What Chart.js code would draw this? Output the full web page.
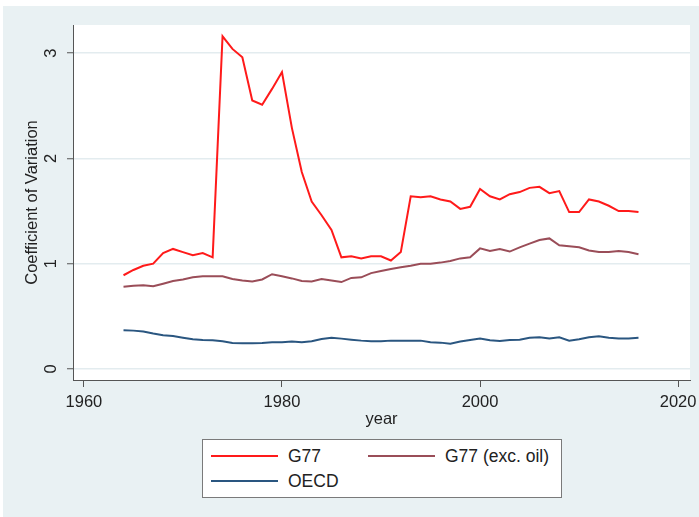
<!DOCTYPE html>
<html>
<head>
<meta charset="utf-8">
<script src="https://cdn.jsdelivr.net/npm/chart.js@4/dist/chart.umd.min.js"></script>
<style>
  body { margin: 0; background: #fff; width: 699px; height: 517px; overflow: hidden; position: relative; }
  #bg { position: absolute; left: 3px; top: 6px; right: 0; bottom: 0; background: #e9f1f3; }
  #chart { position: absolute; left: 0; top: 0; }
  #legend {
    position: absolute; left: 202px; top: 439px; width: 358px; height: 57px;
    background: #fff; border: 1px solid #7a7a7a;
    font-family: "Liberation Sans", Arial, sans-serif; font-size: 17.5px; color: #222;
  }
  .item { position: absolute; height: 20px; }
  .item .swatch { position: absolute; left: 0; top: 9px; width: 67px; height: 0; border-top: 2px solid; }
  .item .txt { position: absolute; left: 77px; top: 0; line-height: 20px; white-space: nowrap; }
</style>
</head>
<body>
<div id="bg"></div>
<canvas id="chart" width="699" height="517"></canvas>
<div id="legend"></div>
<script>
// Data
const years = [1964, 1965, 1966, 1967, 1968, 1969, 1970, 1971, 1972, 1973,
  1974, 1975, 1976, 1977, 1978, 1979, 1980, 1981, 1982, 1983,
  1984, 1985, 1986, 1987, 1988, 1989, 1990, 1991, 1992, 1993,
  1994, 1995, 1996, 1997, 1998, 1999, 2000, 2001, 2002, 2003,
  2004, 2005, 2006, 2007, 2008, 2009, 2010, 2011, 2012, 2013,
  2014, 2015, 2016];

const g77 = [0.89, 0.94, 0.98, 1.00, 1.10, 1.14, 1.11, 1.08, 1.10, 1.06,
  3.16, 3.04, 2.96, 2.55, 2.51, 2.66, 2.82, 2.29, 1.87, 1.59,
  1.46, 1.32, 1.06, 1.07, 1.05, 1.07, 1.07, 1.03, 1.11, 1.64,
  1.63, 1.64, 1.61, 1.59, 1.52, 1.54, 1.71, 1.64, 1.61, 1.66,
  1.68, 1.72, 1.73, 1.67, 1.69, 1.49, 1.49, 1.61, 1.59, 1.55,
  1.50, 1.50, 1.49];

const g77ExcOil = [0.78, 0.79, 0.795, 0.785, 0.81, 0.835, 0.85, 0.87, 0.88, 0.88,
  0.88, 0.855, 0.84, 0.83, 0.85, 0.90, 0.88, 0.86, 0.835, 0.83,
  0.855, 0.84, 0.825, 0.865, 0.87, 0.91, 0.93, 0.95, 0.965, 0.98,
  1.00, 1.00, 1.01, 1.025, 1.05, 1.06, 1.145, 1.12, 1.14, 1.115,
  1.155, 1.19, 1.225, 1.24, 1.175, 1.165, 1.155, 1.125, 1.11, 1.11,
  1.12, 1.11, 1.09];

const oecd = [0.367, 0.364, 0.355, 0.336, 0.32, 0.313, 0.297, 0.282, 0.275, 0.272,
  0.263, 0.247, 0.244, 0.244, 0.247, 0.254, 0.254, 0.26, 0.254, 0.263,
  0.285, 0.297, 0.288, 0.278, 0.269, 0.263, 0.262, 0.269, 0.269, 0.269,
  0.269, 0.254, 0.25, 0.24, 0.26, 0.275, 0.29, 0.272, 0.266, 0.275,
  0.278, 0.297, 0.30, 0.29, 0.30, 0.269, 0.282, 0.30, 0.31, 0.297,
  0.29, 0.29, 0.297];

const seriesNames = ['G77', 'G77 (exc. oil)', 'OECD'];
const xTicks = [1960, 1980, 2000, 2020];
const yTicks = [0, 1, 2, 3];

const colors = ['#ff1a1a', '#9a4d58', '#2a5680'];
const font = { family: '"Liberation Sans", Arial, sans-serif', size: 16.5 };

const toPoints = vals => years.map((yr, i) => ({ x: yr, y: vals[i] }));

// white plot region behind the lines
const plotBg = {
  id: 'plotBg',
  beforeDraw(chart) {
    const { ctx, chartArea: a } = chart;
    ctx.save();
    ctx.fillStyle = '#fff';
    ctx.fillRect(a.left, a.top, a.right - a.left, a.bottom - a.top);
    ctx.restore();
  }
};

new Chart(document.getElementById('chart'), {
  type: 'line',
  data: {
    datasets: [g77, g77ExcOil, oecd].map((vals, i) => ({
      label: seriesNames[i],
      data: toPoints(vals),
      borderColor: colors[i],
      borderWidth: 2,
      pointRadius: 0,
      tension: 0,
      fill: false
    }))
  },
  options: {
    responsive: false,
    animation: false,
    layout: { padding: { top: 25, right: 9, left: 0, bottom: 0 } },
    plugins: { legend: { display: false }, tooltip: { enabled: false } },
    scales: {
      x: {
        type: 'linear',
        min: 1958.9,
        max: 2021.2,
        afterBuildTicks: s => { s.ticks = xTicks.map(v => ({ value: v })); },
        afterFit: s => { s.height = 137; s.paddingLeft = 0; s.paddingRight = 0; },
        ticks: { font, color: '#222', padding: 6, maxRotation: 0, callback: v => String(v) },
        grid: { drawOnChartArea: false, drawTicks: true, tickLength: 7, tickColor: '#555', tickWidth: 1 },
        border: { display: true, color: '#555', width: 1 },
        title: { display: true, text: 'year', font, color: '#222', padding: { top: 0, bottom: 88 } }
      },
      y: {
        min: -0.105,
        max: 3.267,
        afterBuildTicks: s => { s.ticks = yTicks.map(v => ({ value: v })); },
        afterFit: s => { s.width = 73; s.paddingTop = 0; s.paddingBottom = 0; },
        ticks: { font, color: '#222', padding: 11, minRotation: 90, maxRotation: 90, crossAlign: 'center', callback: v => String(v) },
        grid: { color: '#e3ecef', lineWidth: 1.5, drawTicks: true, tickLength: 6, tickColor: '#555', tickWidth: 1 },
        border: { display: true, color: '#555', width: 1 },
        title: { display: true, text: 'Coefficient of Variation', font, color: '#222', padding: { top: 23, bottom: 0 } }
      }
    }
  },
  plugins: [plotBg]
});

// legend box, two columns like the original
const legendPos = [[8, 6], [165, 6], [8, 31]];
const legend = document.getElementById('legend');
seriesNames.forEach((name, i) => {
  const it = document.createElement('div');
  it.className = 'item';
  it.style.left = legendPos[i][0] + 'px';
  it.style.top = legendPos[i][1] + 'px';
  it.innerHTML = `<span class="swatch" style="border-color:${colors[i]}"></span><span class="txt">${name}</span>`;
  legend.appendChild(it);
});
</script>
</body>
</html>
